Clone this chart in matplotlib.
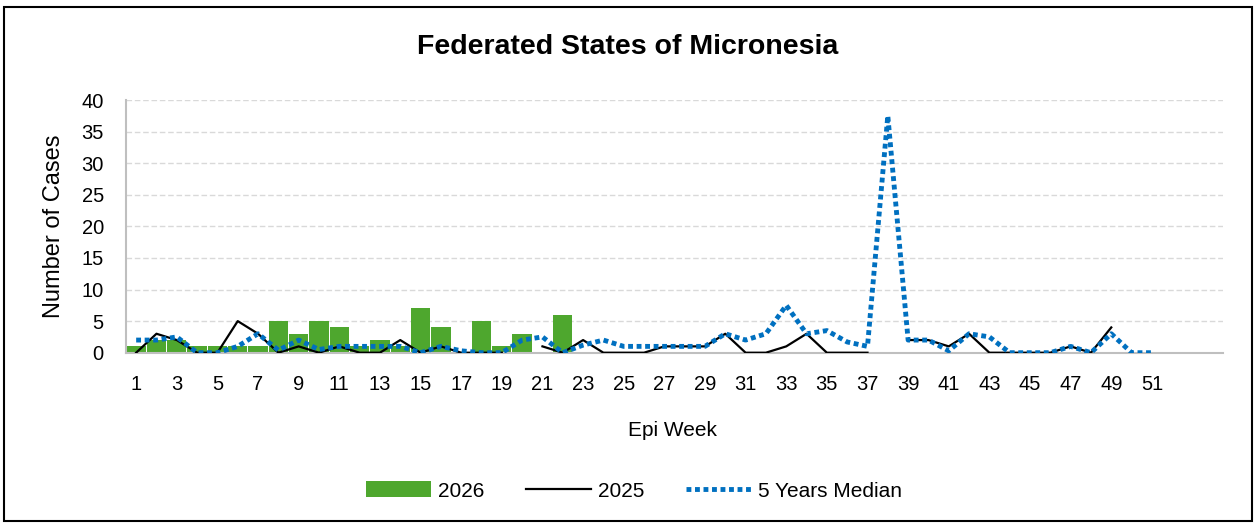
import numpy as np
import matplotlib
matplotlib.use("Agg")
import matplotlib.pyplot as plt
from matplotlib.patches import Rectangle

plt.rcParams['font.family'] = ['Liberation Sans', 'DejaVu Sans']

# ---- data ----
weeks = list(range(1, 55))
tick_weeks = list(range(1, 52, 2))
nan = np.nan

cases_2026 = [1, 2, 2, 1, 1, 1, 1, 5, 3, 5, 4, 1, 2, 1, 7, 4, 0, 5, 1, 3, 0, 6]
cases_2025 = [0, 3, 2, 0, 0, 5, 3, 0, 1, 0, 1, 0, 0, 2, 0, 1, 0, 0, 0, nan,
              1, 0, 2, 0, 0, 0, 1, 1, 1, 3, 0, 0, 1, 3, 0, 0, 0, nan, 2, 2,
              1, 3, 0, 0, 0, 0, 1, 0, 4]
median_5y = [2, 2, 2.5, 0, 0, 1, 3, 0.4, 2, 0.5, 1, 1, 1, 1, 0, 1, 0.3, 0, 0, 2,
             2.5, 0, 1.2, 2, 1, 1, 1, 1, 1, 3, 2, 3, 7.5, 3, 3.5, 1.7, 1, 37.5, 2, 2,
             0.3, 3, 2.5, 0, 0, 0, 1, 0, 3, 0, 0]

title = "Federated States of Micronesia"
ylabel = "Number of Cases"
xlabel = "Epi Week"
labels = ["2026", "2025", "5 Years Median"]

# ---- figure ----
W, H = 1255, 524
fig = plt.figure(figsize=(W / 100, H / 100), dpi=100)
ax = fig.add_axes([126 / W, 1 - 352.7 / H, (1223 - 126) / W, (352.7 - 100) / H])

x26 = np.arange(1, len(cases_2026) + 1)
x25 = np.arange(1, len(cases_2025) + 1)
xm = np.arange(1, len(median_5y) + 1)

b = ax.bar(x26, cases_2026, width=0.95, color='#4EA72E', zorder=2, label=labels[0])
l1, = ax.plot(x25, cases_2025, color='black', lw=1.6, zorder=3, label=labels[1])
l2, = ax.plot(xm, median_5y, color='#0070C0', lw=3.5, linestyle=(0, (1, 0.75)),
              dash_capstyle='butt', zorder=4, label=labels[2])

ax.set_xlim(0.5, len(weeks) + 0.5)
ax.set_ylim(0, 40)
ax.set_yticks(range(0, 41, 5))
ax.set_xticks(tick_weeks)
ax.set_xticklabels([str(w) for w in tick_weeks])
ax.tick_params(axis='x', length=0, pad=16, labelsize=14.5)
ax.tick_params(axis='y', length=0, pad=16, labelsize=14.5)

ax.grid(axis='y', color='#D9D9D9', linestyle=(0, (4, 2)), lw=1.0, zorder=0)
ax.set_axisbelow(True)
for s in ['top', 'right']:
    ax.spines[s].set_visible(False)
for s in ['left', 'bottom']:
    ax.spines[s].set_color('#BFBFBF')
    ax.spines[s].set_linewidth(1.5)

fig.text(54 / W, 1 - 226 / H, ylabel, rotation=90, ha='center', va='center', fontsize=17)
ax.set_xlabel(xlabel, fontsize=15)
ax.xaxis.set_label_coords((672 - 126) / 1097, (352.7 - 421) / 252.7)

fig.text(0.5, 1 - 47 / H, title, ha='center', va='center', fontsize=20.5, fontweight='bold')

fig.legend(handles=[b, l1, l2], labels=labels, loc='center',
           bbox_to_anchor=(634 / W, 1 - 491 / H), ncol=3, frameon=False,
           fontsize=15, handlelength=3.1, handleheight=0.8, handletextpad=0.35,
           columnspacing=2.0)

fig.add_artist(Rectangle((4 / W, 3 / H), 1248 / W, 514 / H, transform=fig.transFigure,
                         fill=False, edgecolor='black', lw=1.5))

fig.savefig('out.png', dpi=100)
